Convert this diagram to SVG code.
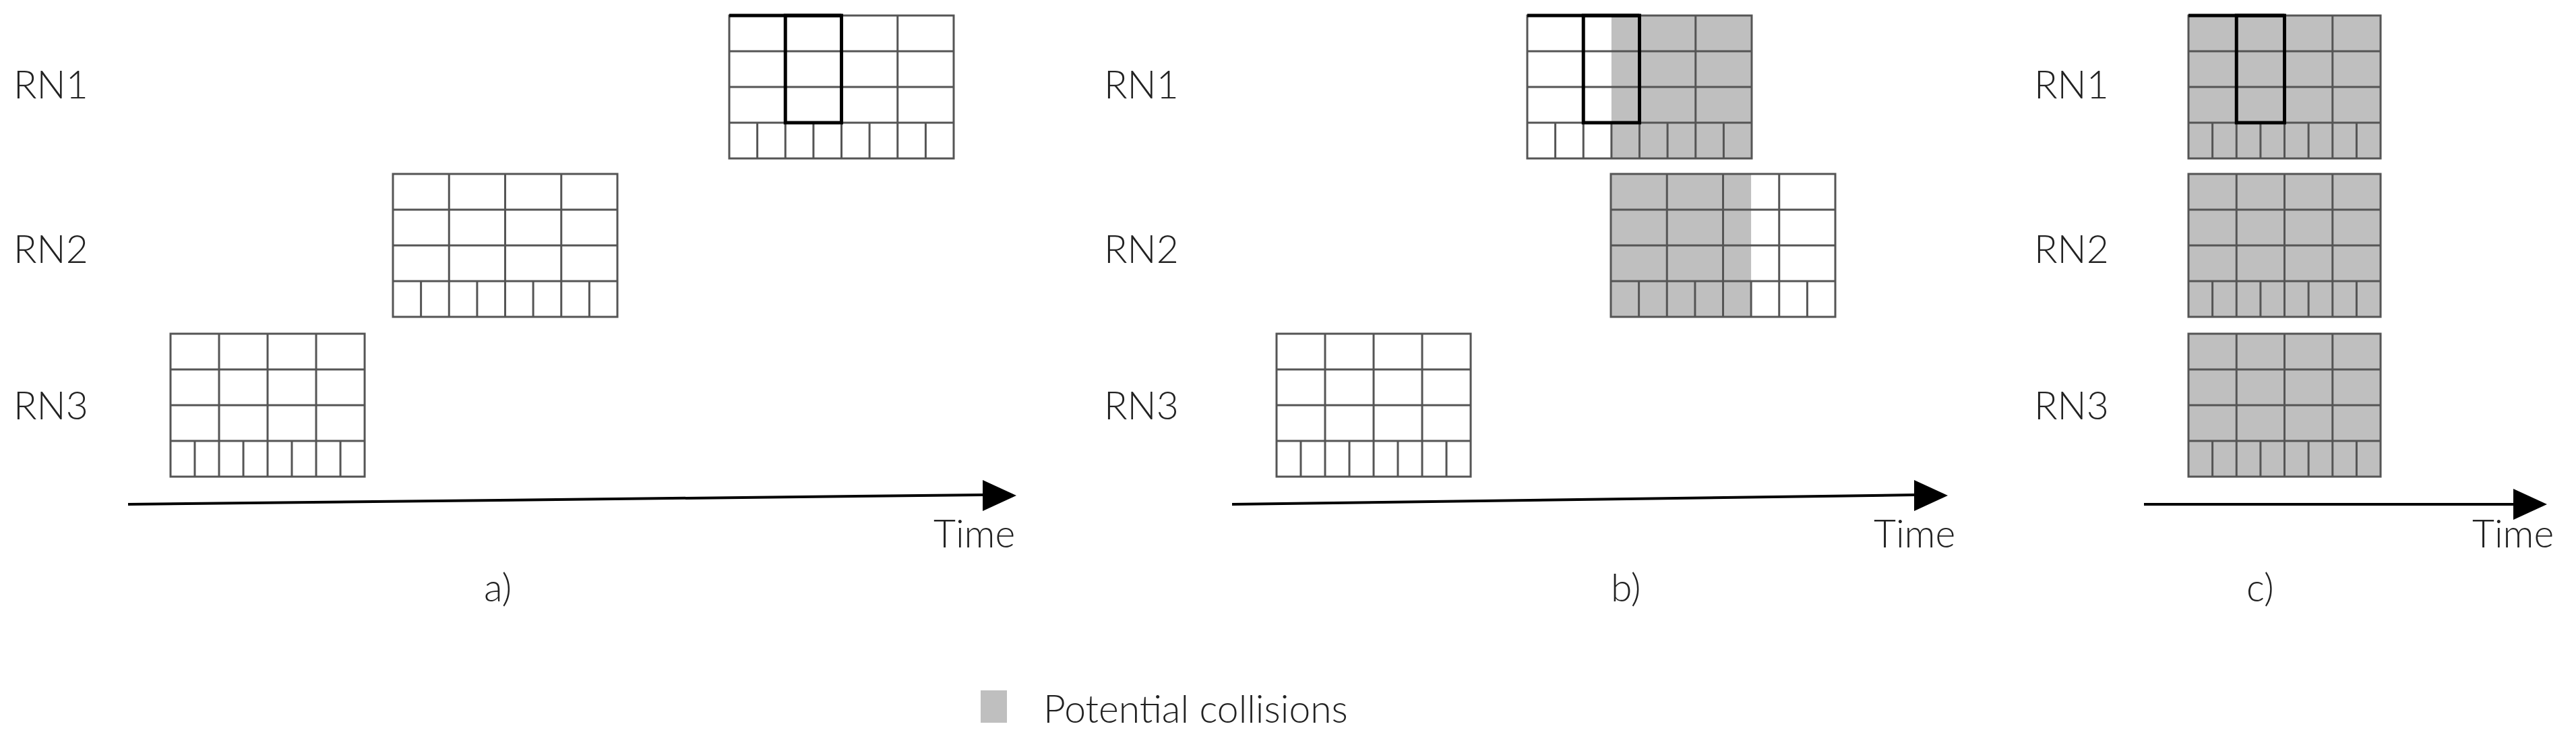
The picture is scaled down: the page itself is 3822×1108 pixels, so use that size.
<svg xmlns="http://www.w3.org/2000/svg" xmlns:xlink="http://www.w3.org/1999/xlink" width="3822" height="1108" viewBox="0 0 3822 1108">
<style>
text{font-family:Lato,"Open Sans","Liberation Sans",sans-serif;font-size:57px;fill:#222;font-weight:300}
.g line,.g rect{stroke:#555;stroke-width:3;fill:none;vector-effect:non-scaling-stroke}
.gray{fill:#bfbfbf;stroke:none}
.sel{fill:none;stroke:#000;stroke-width:5}
.ax{stroke:#000;stroke-width:4;fill:none}
</style>
<defs>
<g id="grid" class="g">
<line x1="0" y1="53" x2="333" y2="53"/><line x1="0" y1="106" x2="333" y2="106"/><line x1="0" y1="159" x2="333" y2="159"/>
<line x1="83.25" y1="0" x2="83.25" y2="212"/><line x1="166.5" y1="0" x2="166.5" y2="212"/><line x1="249.75" y1="0" x2="249.75" y2="212"/>
<line x1="41.6" y1="159" x2="41.6" y2="212"/><line x1="124.9" y1="159" x2="124.9" y2="212"/><line x1="208.1" y1="159" x2="208.1" y2="212"/><line x1="291.4" y1="159" x2="291.4" y2="212"/>
<rect x="0" y="0" width="333" height="212"/>
</g>
</defs>
<g id="labels">
<text x="20" y="146">RN1</text><text x="20" y="390">RN2</text><text x="20" y="622">RN3</text>
<text x="1638" y="146">RN1</text><text x="1638" y="390">RN2</text><text x="1638" y="622">RN3</text>
<text x="3018" y="146">RN1</text><text x="3018" y="390">RN2</text><text x="3018" y="622">RN3</text>
<text x="1385" y="812">Time</text><text x="2780" y="812">Time</text><text x="3668" y="812">Time</text>
<text x="718" y="892">a)</text><text x="2390" y="892">b)</text><text x="3333" y="892">c)</text>
</g>
<g id="a-rn1" transform="translate(1082,23)"><use xlink:href="#grid"/><rect class="sel" x="83.25" y="0" width="83.25" height="159"/><line class="sel" x1="0" y1="0" x2="166.5" y2="0"/></g>
<g id="a-rn2" transform="translate(583,258)"><use xlink:href="#grid"/></g>
<g id="a-rn3" transform="translate(253,495)"><use xlink:href="#grid" transform="scale(0.865,1)"/></g>
<g id="b-rn1" transform="translate(2266,23)"><rect class="gray" x="124.9" y="0" width="208.1" height="212"/><use xlink:href="#grid"/><rect class="sel" x="83.25" y="0" width="83.25" height="159"/><line class="sel" x1="0" y1="0" x2="166.5" y2="0"/></g>
<g id="b-rn2" transform="translate(2390,258)"><rect class="gray" x="0" y="0" width="208.1" height="212"/><use xlink:href="#grid"/></g>
<g id="b-rn3" transform="translate(1894,495)"><use xlink:href="#grid" transform="scale(0.865,1)"/></g>
<g id="c-rn1" transform="translate(3247,23)"><rect class="gray" width="285" height="212"/><use xlink:href="#grid" transform="scale(0.856,1)"/><rect class="sel" x="71.25" y="0" width="71.25" height="159"/><line class="sel" x1="0" y1="0" x2="142.5" y2="0"/></g>
<g id="c-rn2" transform="translate(3247,258)"><rect class="gray" width="285" height="212"/><use xlink:href="#grid" transform="scale(0.856,1)"/></g>
<g id="c-rn3" transform="translate(3247,495)"><rect class="gray" width="285" height="212"/><use xlink:href="#grid" transform="scale(0.856,1)"/></g>
<g id="connectors">
<line class="ax" x1="190" y1="748" x2="1460" y2="734"/><polygon points="1458,712 1508,735 1458,758" fill="#000"/>
<line class="ax" x1="1828" y1="748" x2="2842" y2="734"/><polygon points="2840,712 2890,735 2840,758" fill="#000"/>
<line class="ax" x1="3181" y1="748" x2="3731" y2="748"/><polygon points="3729,725 3779,748 3729,771" fill="#000"/>
</g>
<g id="legend"><rect class="gray" x="1455" y="1024" width="39" height="48"/><text x="1548" y="1072">Potential collisions</text></g>
</svg>
